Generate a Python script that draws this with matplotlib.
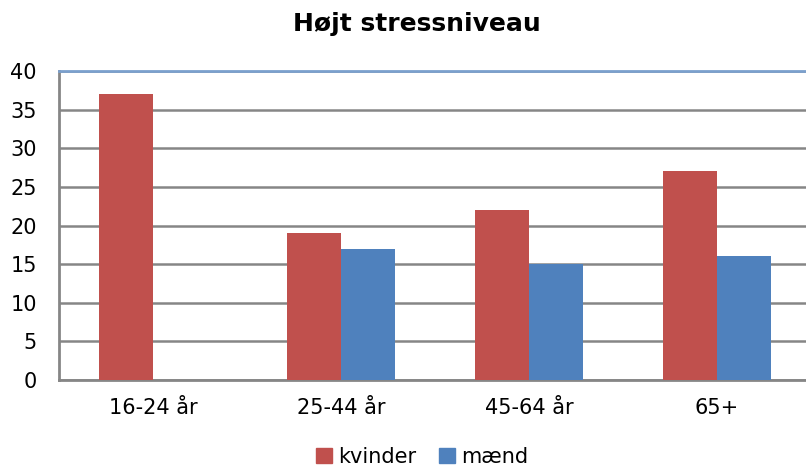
import numpy as np
import matplotlib
matplotlib.use("Agg")
import matplotlib.pyplot as plt
from matplotlib.patches import Patch

categories = ["16-24 år", "25-44 år", "45-64 år", "65+"]
kvinder = [37, 19, 22, 27]
maend = [np.nan, 17, 15, 16]
yticks = [0, 5, 10, 15, 20, 25, 30, 35, 40]

red = "#C0504D"
blue = "#4F81BD"
grid = "#868686"

W, H = 806, 466
fig = plt.figure(figsize=(W/100, H/100), dpi=100)
ax = fig.add_axes([59/W, (H-380)/H, (811-59)/W, (380-71)/H])

x = np.arange(len(categories))
bw = 0.287
ax.bar(x - bw/2, kvinder, bw, color=red, zorder=3)
ax.bar(x + bw/2, maend, bw, color=blue, zorder=3)

ax.set_xlim(-0.5, 3.5)
ax.set_ylim(0, 40)
ax.set_yticks(yticks)
ax.set_yticklabels([str(v) for v in yticks], fontsize=15, family="DejaVu Sans")
ax.set_xticks(x)
ax.set_xticklabels(categories, fontsize=15, family="DejaVu Sans")
ax.yaxis.grid(True, color=grid, linewidth=1.8, zorder=0)
ax.tick_params(axis="both", length=0, colors="black")
ax.tick_params(axis="y", pad=16)
ax.tick_params(axis="x", pad=13)
for s in ["left", "bottom"]:
    ax.spines[s].set_color(grid)
    ax.spines[s].set_linewidth(2)
ax.spines["right"].set_visible(False)
ax.spines["top"].set_color("#7BA0CD")
ax.spines["top"].set_linewidth(2)

fig.text(417/W, 1 - 24/H, "Højt stressniveau", ha="center", va="center",
         fontsize=18, fontweight="bold", family="DejaVu Sans")

handles = [Patch(color=red, label="kvinder"), Patch(color=blue, label="mænd")]
fig.legend(handles=handles, loc="center", bbox_to_anchor=(422/W, 1 - 457/H),
           ncol=2, frameon=False, fontsize=15, handlelength=0.75, handleheight=0.75,
           handletextpad=0.3, columnspacing=1.1, borderaxespad=0)

fig.savefig("out.png", dpi=100)
